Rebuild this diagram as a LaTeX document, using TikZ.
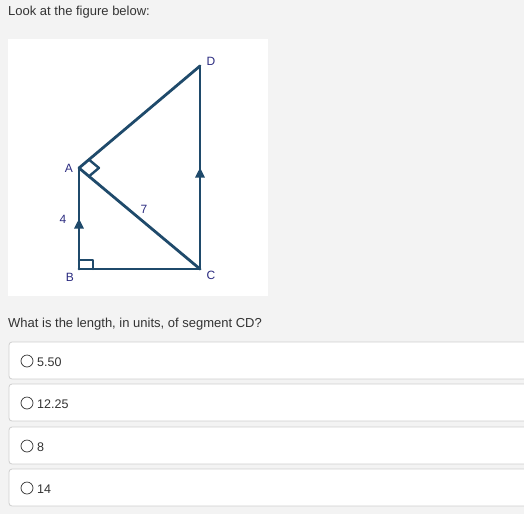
\documentclass[tikz,border=0pt]{standalone}
\usepackage{fontspec}
\setmainfont{Liberation Sans}
\usetikzlibrary{arrows.meta,decorations.markings,calc}
\definecolor{bg}{HTML}{F3F3F3}
\definecolor{seg}{HTML}{1F4A6B}
\definecolor{lbl}{HTML}{2B2B80}
\definecolor{boxline}{HTML}{CFCFCF}
\definecolor{txt}{HTML}{333333}
\tikzset{
  seg/.style={draw=seg,line width=2.8pt,line cap=round,line join=round},
  midarrow/.style={postaction={decorate,decoration={markings,mark=at position 0.5 with {\arrow{Triangle[length=10pt,width=9pt]}}}}},
  vlabel/.style={text=lbl,font=\fontsize{12}{14}\selectfont,inner sep=0pt},
  qtext/.style={text=txt,font=\fontsize{13}{15}\selectfont,anchor=west,inner sep=0pt},
  otext/.style={text=txt,font=\fontsize{12.5}{15}\selectfont,anchor=west,inner sep=0pt},
  optbox/.style={draw=boxline,fill=white,rounded corners=3pt,line width=0.8pt},
  radio/.style={draw=txt,circle,minimum size=12pt,inner sep=0pt,line width=0.7pt}
}
\begin{document}
\begin{tikzpicture}[x=1pt,y=-1pt]
\fill[bg] (0,0) rectangle (524,514);
\useasboundingbox (0,0) rectangle (524,514);
\node[qtext] (t1) at (8,12) {Look at the figure below:};
\fill[white] (8,39) rectangle (268,296);
\coordinate (A) at (79,168);
\coordinate (B) at (79,269);
\coordinate (C) at (200,269);
\coordinate (D) at (200,66);
\coordinate (B1) at (79,260);
\coordinate (B2) at (93,260);
\coordinate (B3) at (93,269);
\coordinate (A1) at ($(A)!13pt!(D)$);
\coordinate (A3) at ($(A)!13pt!(C)$);
\coordinate (A2) at ($(A1)+(A3)-(A)$);
% right angle marks
\draw[seg,line width=2.4pt] (B1) -- (B2) -- (B3);
\draw[seg] (A) -- (C);
\draw[seg] (A) -- (D);
\draw[seg] (B) -- (C);
\draw[seg,midarrow] (B) -- (A);
\draw[seg,midarrow] (C) -- (D);
\draw[seg,line width=2.4pt] (A1) -- (A2) -- (A3);
\node[vlabel] (lA) at (69,168) {A};
\node[vlabel] (lB) at (70,277) {B};
\node[vlabel] (lC) at (211,275) {C};
\node[vlabel] (lD) at (211,61) {D};
\node[vlabel] (l4) at (63,219) {4};
\node[vlabel] (l7) at (144,209) {7};
\node[qtext] (q) at (8,324) {What is the length, in units, of segment CD?};
\foreach \y/\t [count=\i] in {342/5.50,384/12.25,427/8,469/14}{
  \draw[optbox] (9,\y) rectangle (540,\y+37);
  \node[radio] (r\i) at (27,\y+19) {};
  \node[otext] (o\i) at (37,\y+20) {\t};
}
\end{tikzpicture}
\end{document}
